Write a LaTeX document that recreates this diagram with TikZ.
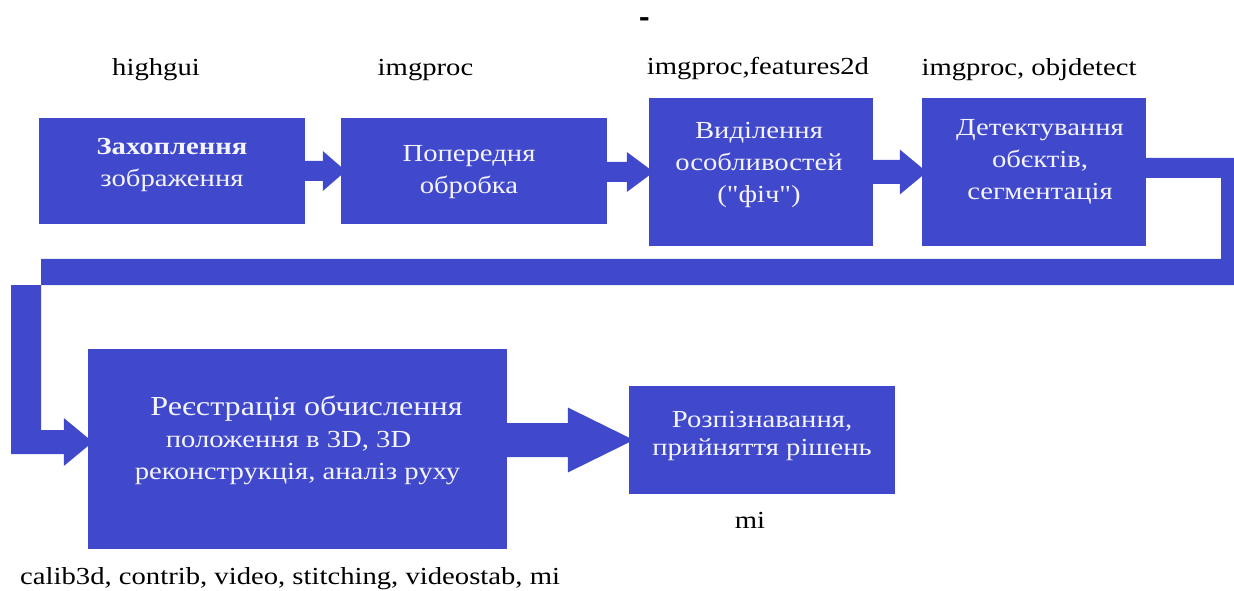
\documentclass[tikz,border=0pt]{standalone}
\usepackage{graphicx}
\usepackage{fontspec}
\setmainfont{Liberation Serif}[FakeStretch=1.17]
% same face without the TeX quote mapping, for straight double quotes
\newfontfamily\plainserif{Liberation Serif}[FakeStretch=1.17]
\usetikzlibrary{calc,backgrounds}
\definecolor{boxblue}{RGB}{64,72,203}
\definecolor{boxtext}{RGB}{244,244,255}

% block arrow between two boxes: from, to, shaft half-height, head half-height, head length
\newcommand{\blockarrow}[5]{%
  \fill[flow] ($(#1.east |- #2.west)+(0,#3)$) -- ($(#2.west)+(-#5,#3)$)
    -- ($(#2.west)+(-#5,#4)$) -- ($(#2.west)+(5,0)$) -- ($(#2.west)+(-#5,-#4)$)
    -- ($(#2.west)+(-#5,-#3)$) -- ($(#1.east |- #2.west)+(0,-#3)$) -- cycle;}
\newcommand{\sq}{{\plainserif "}}

\tikzset{
  box/.style={fill=boxblue, draw=none, inner sep=0pt},
  flow/.style={fill=boxblue},
  txt/.style={text=boxtext, align=center, inner sep=0pt,
              font=\fontsize{24.5}{32}\selectfont},
  lbl/.style={text=black, inner sep=0pt, font=\fontsize{24.5}{30}\selectfont}
}

\begin{document}
\begin{tikzpicture}[x=1pt, y=1pt]
\useasboundingbox (0,0) rectangle (1234,590);

% processing stages
\node[box, minimum width=266pt, minimum height=106pt] (b1) at (172,419) {};
\node[box, minimum width=266pt, minimum height=106pt] (b2) at (474,419) {};
\node[box, minimum width=224pt, minimum height=148pt] (b3) at (761,418) {};
\node[box, minimum width=224pt, minimum height=148pt] (b4) at (1034,418) {};
\node[box, minimum width=419pt, minimum height=200pt] (b5) at (297.5,141) {};
\node[box, minimum width=266pt, minimum height=108pt] (b6) at (762,150) {};

\node[txt] (t1) at ($(b1)+(0,6)$) {\textbf{Захоплення}\\зображення};
\node[txt] (t2) at ($(b2)+(-5,-1)$) {Попередня\\обробка};
\node[txt] (t3) at ($(b3)+(-2,7)$) {Виділення\\особливостей\\(\sq фіч\sq)};
\node[txt] (t4) at ($(b4)+(6,10)$) {Детектування\\обєктів,\\сегментація};
\node[txt] (t5) at ($(b5)+(0,9)$) {\mbox{\kern18pt\fontsize{27.5}{32}\selectfont Реєстрація обчислення}\\\mbox{положення в 3D, 3D\kern18pt}\\реконструкція, аналіз руху};
\node[txt, font=\fontsize{24.5}{28}\selectfont] (t6) at ($(b6)+(0,4)$) {Розпізнавання,\\прийняття рішень};

% module names
\node[lbl, anchor=base] (l1) at (156,514) {highgui};
\node[lbl, anchor=base] (l2) at (425.5,514) {imgproc};
\node[lbl, anchor=base] (l3) at (758,515) {imgproc,features2d};
\node[lbl, anchor=base] (l4) at (1029,514) {imgproc, objdetect};
\node[lbl, anchor=base] (l5) at (750,62) {mi};
\node[lbl, anchor=base west] (l6) at (20,6) {calib3d, contrib, video, stitching, videostab, mi};
\node[lbl, anchor=base] (dash) at (645,561) {\scalebox{1.1}[1.6]{\textbf{-}}};

% route of the return connector
\coordinate (in5) at ($(b5.west)+(0,7)$);
\coordinate (rOut) at (1234,305);
\coordinate (rIn) at (1221,331);
\coordinate (lOut) at (11,305);
\coordinate (lIn) at (41,331);
\coordinate (s4t) at ($(b4.east)+(0,14)$);
\coordinate (s4b) at ($(b4.east)+(0,-6)$);
\coordinate (s5t) at ($(in5)+(-24,12)$);
\coordinate (s5b) at ($(in5)+(-24,-12)$);

\begin{pgfonlayer}{background}
  \blockarrow{b1}{b2}{10}{20}{18}
  \blockarrow{b2}{b3}{10}{20}{22}
  \blockarrow{b3}{b4}{12}{22.5}{22}
  \blockarrow{b5}{b6}{17}{32.5}{61}
  \fill[flow] (s4t) -- (s4t -| rOut) -- (rOut)
    -- (lOut) -- (lOut |- s5b) -- (s5b)
    -- ($(in5)+(-24,-24)$) -- ($(in5)+(5,0)$) -- ($(in5)+(-24,24)$)
    -- (s5t) -- (lIn |- s5t) -- (lIn)
    -- (rIn) -- (s4b -| rIn) -- (s4b) -- cycle;
\end{pgfonlayer}
\end{tikzpicture}
\end{document}
